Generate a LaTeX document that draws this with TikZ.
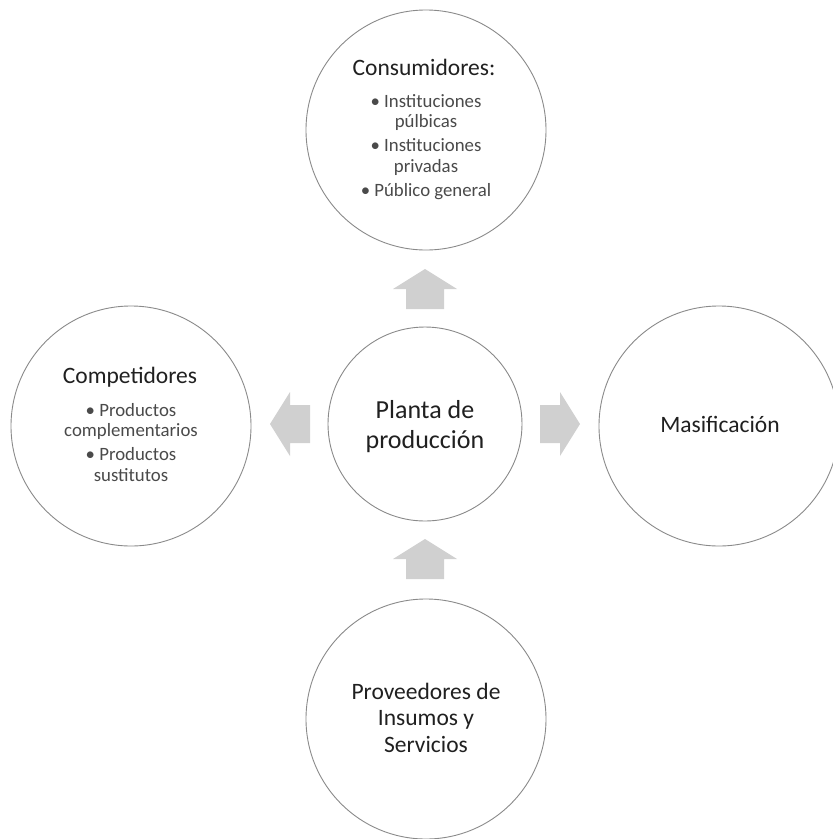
\documentclass[tikz,border=0pt]{standalone}
\usepackage{fontspec}
\setmainfont{Carlito}
\definecolor{circgray}{HTML}{8A8A8A}
\definecolor{arrowgray}{HTML}{D0D0D0}
\definecolor{titlegray}{HTML}{202020}
\definecolor{bulletgray}{HTML}{4A4A4A}
\begin{document}
\begin{tikzpicture}[x=1pt,y=-1pt,
  bubble/.style={circle, draw=circgray, line width=0.9pt, minimum size=240pt, inner sep=0pt},
  titletext/.style={font=\fontsize{23.5}{26.5}\selectfont, text=titlegray, align=center, inner sep=0pt, anchor=base},
  bigtext/.style={font=\fontsize{26}{30}\selectfont, text=titlegray, align=center, inner sep=0pt, anchor=base},
  bullettext/.style={font=\fontsize{18.8}{20.5}\selectfont, text=bulletgray, align=center, inner sep=0pt, anchor=base},
  blockarrow/.style={fill=arrowgray, draw=none}]
\useasboundingbox (0,0) rectangle (833,839);
\fill[white] (0,0) rectangle (833,839);

% circles
\node[bubble] (cons) at (426,130) {};
\node[bubble] (comp) at (131,426) {};
\node[bubble] (masif) at (719,426) {};
\node[bubble] (prov) at (426,719) {};
\node[bubble, minimum size=194pt] (planta) at (425,424) {};

% texts (anchor=base is the baseline of the last line)
\node[titletext] (consT) at (424,75) {Consumidores:};
\node[bullettext] (consB) at (426,196) {• Instituciones\\púlbicas\\[3.5pt]• Instituciones\\privadas\\[3.5pt]• Público general};
\node[titletext] (compT) at (130,383) {Competidores};
\node[bullettext] (compB) at (131,481) {• Productos\\complementarios\\[3.5pt]• Productos\\sustitutos};
\node[bigtext] (plantaT) at (425,448) {Planta de\\producción};
\node[titletext] (masifT) at (720,432) {Masificación};
\node[titletext] (provT) at (426,752) {Proveedores de\\Insumos y\\Servicios};

% block arrows
\begin{scope}[shift={(planta.center)}]
  \fill[blockarrow] (-19,-115) -- (-19,-135) -- (-32,-135) -- (0,-155) -- (32,-135) -- (19,-135) -- (19,-115) -- cycle;
  \fill[blockarrow] (115,-19) -- (135,-19) -- (135,-32) -- (155,0) -- (135,32) -- (135,19) -- (115,19) -- cycle;
  \fill[blockarrow] (-115,-19) -- (-135,-19) -- (-135,-32) -- (-155,0) -- (-135,32) -- (-135,19) -- (-115,19) -- cycle;
  \fill[blockarrow] (-19,155) -- (-19,135) -- (-32,135) -- (0,115) -- (32,135) -- (19,135) -- (19,155) -- cycle;
\end{scope}
\end{tikzpicture}
\end{document}
